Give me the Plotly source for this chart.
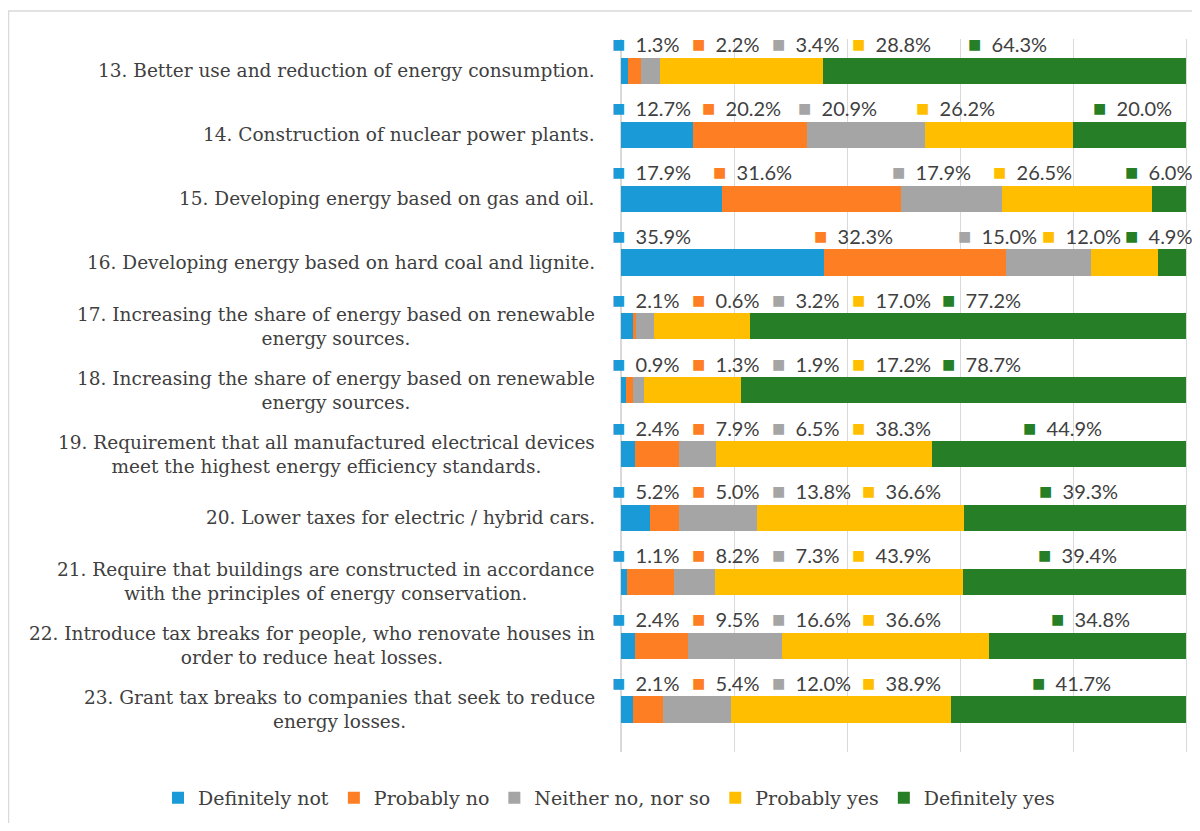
import plotly.graph_objects as go

categories = [
    "13. Better use and reduction of energy consumption.",
    "14. Construction of nuclear power plants.",
    "15. Developing energy based on gas and oil.",
    "16. Developing energy based on hard coal and lignite.",
    "17. Increasing the share of energy based on renewable<br>energy sources.",
    "18. Increasing the share of energy based on renewable<br>energy sources.",
    "19. Requirement that all manufactured electrical devices<br>meet the highest energy efficiency standards.",
    "20. Lower taxes for electric / hybrid cars.",
    "21. Require that buildings are constructed in accordance<br>with the principles of energy conservation.",
    "22. Introduce tax breaks for people, who renovate houses in<br>order to reduce heat losses.",
    "23. Grant tax breaks to companies that seek to reduce<br>energy losses.",
]

answers = ["Definitely not", "Probably no", "Neither no, nor so", "Probably yes", "Definitely yes"]

definitely_not = [1.3, 12.7, 17.9, 35.9, 2.1, 0.9, 2.4, 5.2, 1.1, 2.4, 2.1]
probably_no = [2.2, 20.2, 31.6, 32.3, 0.6, 1.3, 7.9, 5.0, 8.2, 9.5, 5.4]
neither = [3.4, 20.9, 17.9, 15.0, 3.2, 1.9, 6.5, 13.8, 7.3, 16.6, 12.0]
probably_yes = [28.8, 26.2, 26.5, 12.0, 17.0, 17.2, 38.3, 36.6, 43.9, 36.6, 38.9]
definitely_yes = [64.3, 20.0, 6.0, 4.9, 77.2, 78.7, 44.9, 39.3, 39.4, 34.8, 41.7]

series = [definitely_not, probably_no, neither, probably_yes, definitely_yes]
colors = ["#1a9bd7", "#fd7e23", "#a5a5a5", "#ffbf00", "#267f27"]

serif = "DejaVu Serif"
W, H = 1184, 815          # page body has an 8px margin
L, R, T, B = 613, 6, 31, 69
plot_w = W - L - R
plot_h = H - T - B

fig = go.Figure()
for name, vals, col in zip(answers, series, colors):
    fig.add_trace(go.Bar(y=categories, x=vals, name=name, orientation="h",
                         marker=dict(color=col, line=dict(width=0))))

# data labels sit above each bar with a little colour key in front,
# spread out left to right so they do not overlap (as in the Excel original)
px_per_pct = plot_w / 100
annotations = []
for row, cat in enumerate(categories):
    vals = [s[row] for s in series]
    total = sum(vals)
    pct = [v * 100 / total for v in vals]
    starts = [sum(pct[:i]) for i in range(len(pct))]
    texts = ["%.1f%%" % v for v in vals]
    widths = [(len(t) * 10.5 + 24) / px_per_pct for t in texts]
    gap = 14 / px_per_pct
    lefts = []
    for i in range(len(vals)):
        if i == len(vals) - 1:
            x = max(starts[i], starts[i] + pct[i] / 2 - widths[i] / 2)
        else:
            x = starts[i] - 2
        if lefts:
            x = max(x, lefts[-1] + widths[i - 1] + gap)
        lefts.append(x)
    limit = 100.6
    for i in range(len(vals) - 1, -1, -1):
        lefts[i] = min(lefts[i], limit - widths[i])
        limit = lefts[i] - gap / 2
    for i in range(len(vals)):
        annotations.append(dict(
            x=lefts[i] / 100, y=cat, xref="paper", yref="y", xanchor="left", yanchor="middle",
            yshift=27, showarrow=False,
            text="<span style='color:%s;font-size:22px'>\u25a0</span>\u00a0\u00a0%s" % (colors[i], texts[i]),
            font=dict(family="Lato", size=20, color="#404040")))
    annotations.append(dict(
        x=0, y=cat, xref="paper", yref="y", xanchor="right", yanchor="middle", xshift=-24,
        align="center", showarrow=False, text=cat,
        font=dict(family=serif, size=18.5, color="#404040")))

fig.update_layout(
    width=W, height=H,
    barmode="stack", barnorm="percent", bargap=0.59,
    plot_bgcolor="white", paper_bgcolor="white",
    margin=dict(l=L, r=R, t=T, b=B),
    annotations=annotations,
    showlegend=True,
    legend=dict(orientation="h", x=(150 - L) / plot_w, xanchor="left",
                y=(T + plot_h - 792) / plot_h, yanchor="middle",
                font=dict(family=serif, size=19, color="#404040"),
                traceorder="normal"),
    shapes=[dict(type="rect", xref="paper", yref="paper",
                 x0=(0.5 - L) / plot_w, x1=(W + 20 - L) / plot_w,
                 y0=-(H + 20 - T - plot_h) / plot_h, y1=(plot_h + T - 3) / plot_h,
                 line=dict(color="#d9d9d9", width=1.5), layer="below")],
)
fig.update_xaxes(range=[0, 100], dtick=20, showticklabels=False, showgrid=True,
                 gridcolor="#d9d9d9", gridwidth=1, zeroline=True, zerolinecolor="#d9d9d9",
                 zerolinewidth=1, showline=False)
fig.update_yaxes(autorange="reversed", showticklabels=False, showgrid=False,
                 showline=True, mirror=True, linecolor="#d9d9d9", linewidth=1)

fig.write_html("out.html")
